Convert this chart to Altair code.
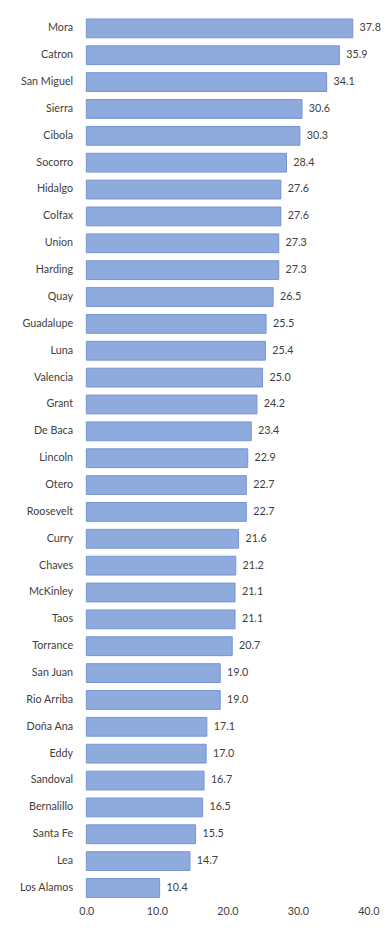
import altair as alt
import pandas as pd

counties = ["Mora", "Catron", "San Miguel", "Sierra", "Cibola", "Socorro", "Hidalgo",
            "Colfax", "Union", "Harding", "Quay", "Guadalupe", "Luna", "Valencia", "Grant",
            "De Baca", "Lincoln", "Otero", "Roosevelt", "Curry", "Chaves", "McKinley", "Taos",
            "Torrance", "San Juan", "Rio Arriba", "Doña Ana", "Eddy", "Sandoval", "Bernalillo",
            "Santa Fe", "Lea", "Los Alamos"]
values = [37.8, 35.9, 34.1, 30.6, 30.3, 28.4, 27.6, 27.6, 27.3, 27.3, 26.5, 25.5, 25.4,
          25.0, 24.2, 23.4, 22.9, 22.7, 22.7, 21.6, 21.2, 21.1, 21.1, 20.7, 19.0, 19.0,
          17.1, 17.0, 16.7, 16.5, 15.5, 14.7, 10.4]
x_ticks = [0, 10, 20, 30, 40]

df = pd.DataFrame({"county": counties, "value": values})

FONT = "Lato"
TXT = "#404040"

y = alt.Y("county:N", sort=counties, title=None,
          scale=alt.Scale(paddingInner=0.3, paddingOuter=0.05),
          axis=alt.Axis(domain=False, ticks=False, labelFont=FONT, labelFontSize=11,
                        labelColor=TXT, labelPadding=14, minExtent=80, maxExtent=80,
                        labelLimit=80))
x = alt.X("value:Q", title=None,
          scale=alt.Scale(domain=[0, 40], nice=False),
          axis=alt.Axis(values=x_ticks, format=".1f", grid=False, domain=False, ticks=False,
                        labelFlush=False,
                        labelFont=FONT, labelFontSize=11, labelColor=TXT, labelPadding=7))

bars = alt.Chart(df).mark_bar(color="#8faadc", stroke="#7393d2", strokeWidth=1).encode(x=x, y=y)
labels = alt.Chart(df).mark_text(align="left", baseline="middle", dx=7, font=FONT,
                                 fontSize=11, color=TXT).encode(
    x="value:Q", y=alt.Y("county:N", sort=counties), text=alt.Text("value:Q", format=".1f"))

chart = (bars + labels).properties(
    width=288, height=900, padding=0,
).configure_view(stroke=None)
chart.save("out.html", embed_options={"renderer": "svg", "actions": False})
